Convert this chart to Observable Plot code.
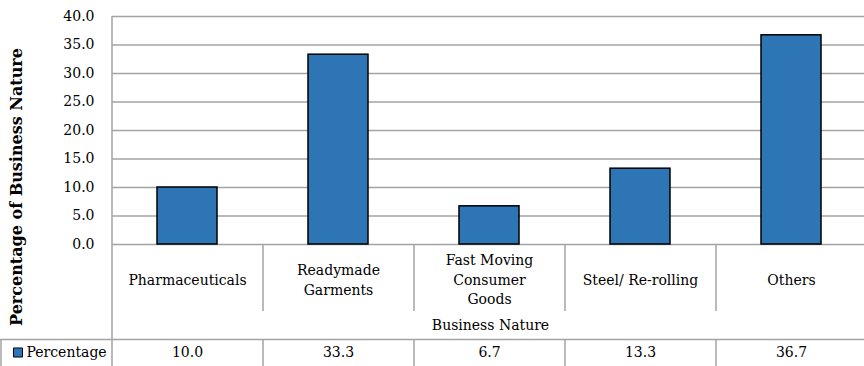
<!DOCTYPE html>
<html><head><meta charset="utf-8">
<script src="https://cdn.jsdelivr.net/npm/d3@7"></script>
<script src="https://cdn.jsdelivr.net/npm/@observablehq/plot@0.6"></script>
<style>body{margin:0;background:#fff} svg{display:block}</style>
</head><body><div id="chart"></div>
<script>
const categories = ["Pharmaceuticals","Readymade Garments","Fast Moving Consumer Goods","Steel/ Re-rolling","Others"];
const categoryLabels = ["Pharmaceuticals","Readymade\nGarments","Fast Moving\nConsumer\nGoods","Steel/ Re-rolling","Others"];
const values = [10.0, 33.3, 6.7, 13.3, 36.7];
const valueLabels = ["10.0","33.3","6.7","13.3","36.7"];
const yTicks = [0,5,10,15,20,25,30,35,40];
const seriesName = "Percentage";
const axisTitle = "Business Nature";
const yTitle = "Percentage of Business Nature";

const data = categories.map((c,i)=>({category:c, label:categoryLabels[i], value:values[i], valueLabel:valueLabels[i]}));

const W = 864, H = 366, ML = 112, MT = 16, MB = 122;
const xRange = [ML, 867];
const step = (xRange[1]-xRange[0]) / categories.length;
const grid = "#a3a3a3";
const font = "DejaVu Serif";

const chart = Plot.plot({
  width: W, height: H,
  marginLeft: ML, marginRight: 0, marginTop: MT, marginBottom: MB,
  style: {fontFamily: font, fontSize: "14px", color: "black", background: "white"},
  x: {type: "band", domain: categories, range: xRange, paddingInner: 0.6, paddingOuter: 0.3, axis: null},
  y: {domain: [0, 40], axis: null},
  marks: [
    Plot.gridY(yTicks, {stroke: grid, strokeOpacity: 1, strokeWidth: 1.5}),
    Plot.axisY(yTicks, {tickSize: 0, tickPadding: 18, tickFormat: d => d.toFixed(1), fontSize: 14, label: null, fill: "black"}),
    // left border of plot + table
    Plot.ruleX(categories.slice(0,1), {x: d => d, dx: -step/2, insetBottom: -MB, stroke: grid, strokeWidth: 1.5}),
    // category separators in label row
    Plot.ruleX(categories.slice(1), {x: d => d, dx: -step/2, insetTop: 228, insetBottom: -67, stroke: grid, strokeWidth: 1.5}),
    // separators in value row
    Plot.ruleX(categories.slice(1), {x: d => d, dx: -step/2, insetTop: 323, insetBottom: -MB, stroke: grid, strokeWidth: 1.5}),
    // outer left border of legend cell
    Plot.ruleX(categories.slice(0,1), {x: d => d, dx: -step/2 - ML + 1, insetTop: 323, insetBottom: -MB, stroke: grid, strokeWidth: 1.5}),
    // horizontal separator above value row
    Plot.ruleY([0], {dy: 95, insetLeft: -ML, stroke: grid, strokeWidth: 1.5}),
    Plot.barY(data, {x: "category", y: "value", fill: "#2E75B6", stroke: "black", strokeWidth: 1.5}),
    Plot.text(data, {x: "category", text: "label", frameAnchor: "bottom", lineAnchor: "middle", dy: 34, lineHeight: 1.4, fontSize: 14, fill: "black"}),
    Plot.text([axisTitle], {frameAnchor: "bottom", lineAnchor: "middle", dx: 2, dy: 81, fontSize: 14, fill: "black"}),
    Plot.text(data, {x: "category", text: "valueLabel", frameAnchor: "bottom", lineAnchor: "middle", dy: 108, fontSize: 14, fill: "black"}),
    Plot.dot([seriesName], {frameAnchor: "bottom-left", dx: -94.5, dy: 108, symbol: "square", r: 5.1, fill: "#2E75B6", stroke: "black", strokeWidth: 1}),
    Plot.text([seriesName], {frameAnchor: "bottom-left", lineAnchor: "middle", dx: -86, dy: 108, textAnchor: "start", fontSize: 14, fill: "black"}),
    Plot.text([yTitle], {frameAnchor: "left", textAnchor: "middle", lineAnchor: "middle", dx: -96, dy: 56.5, rotate: -90, fontSize: 16, fontWeight: "bold", fill: "black"})
  ]
});
document.getElementById("chart").appendChild(chart);
</script>
</body></html>
